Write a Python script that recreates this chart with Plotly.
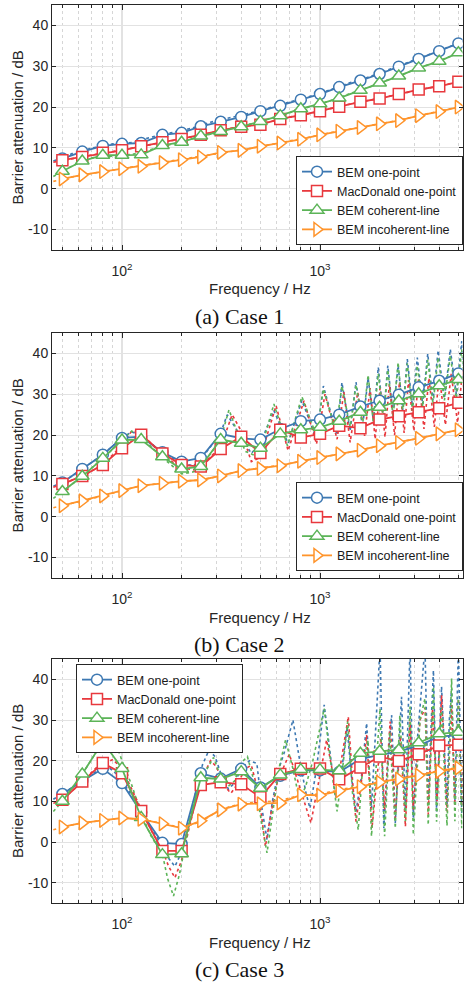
import math
import plotly.graph_objects as go

# ---------------- data ----------------
BANDS = [50, 63, 80, 100, 125, 160, 200, 250, 315, 400, 500, 630, 800, 1000,
         1250, 1600, 2000, 2500, 3150, 4000, 5000]

SERIES_NAMES = ["BEM one-point", "MacDonald one-point", "BEM coherent-line", "BEM incoherent-line"]

# Case 1 (third-octave band values, dB)
c1_bem_point = [7.4, 9.1, 10.5, 11.0, 11.2, 13.2, 13.7, 15.3, 16.4, 17.6, 19.0, 20.3, 21.8, 23.2, 24.9, 26.5, 28.1, 29.9, 31.8, 33.7, 35.6]
c1_macdonald = [7.0, 7.8, 8.8, 9.4, 10.4, 11.4, 12.2, 13.2, 14.3, 15.2, 15.7, 17.1, 18.0, 19.0, 20.1, 21.3, 22.1, 23.2, 24.3, 25.1, 26.2]
c1_coherent = [4.3, 6.8, 8.2, 8.2, 8.3, 10.6, 11.4, 12.9, 14.0, 15.2, 16.5, 17.9, 19.6, 20.8, 22.2, 24.1, 25.9, 27.6, 29.6, 31.2, 33.3]
c1_incoherent = [2.4, 3.4, 4.2, 4.9, 5.5, 6.4, 7.1, 7.8, 8.9, 9.4, 10.4, 11.2, 12.1, 13.2, 14.1, 15.0, 15.9, 16.7, 17.9, 18.9, 20.0]

# Case 1 narrowband (dotted)
nb1_f = [45, 56, 71, 90, 112, 140, 180, 224, 280, 355, 450, 560, 710, 900, 1120, 1400, 1800, 2240, 2800, 3550, 4500, 5400]
nb1_bem_point = [6.8, 8.6, 10.0, 11.0, 11.3, 12.6, 13.8, 14.8, 16.3, 17.4, 18.6, 19.9, 21.3, 22.7, 24.2, 25.9, 27.5, 29.2, 31.0, 32.9, 34.8, 36.2]
nb1_macdonald = [6.5, 7.4, 8.3, 9.1, 9.9, 10.9, 11.8, 12.7, 13.8, 14.8, 15.5, 16.4, 17.6, 18.5, 19.6, 20.7, 21.7, 22.7, 23.8, 24.7, 25.7, 26.6]
nb1_coherent = [3.0, 5.6, 7.6, 8.0, 8.4, 9.6, 11.0, 12.2, 13.5, 14.7, 15.9, 17.2, 18.8, 20.2, 21.5, 23.2, 25.0, 26.8, 28.6, 30.4, 32.3, 34.0]
nb1_incoherent = [1.8, 2.9, 3.8, 4.6, 5.2, 6.0, 6.8, 7.5, 8.4, 9.2, 9.9, 10.8, 11.7, 12.7, 13.7, 14.6, 15.5, 16.3, 17.3, 18.4, 19.5, 20.4]

# Case 2
c2_bem_point = [8.4, 11.7, 15.2, 19.3, 19.6, 15.8, 13.5, 14.4, 20.3, 19.2, 18.9, 21.5, 23.4, 23.8, 25.0, 27.0, 28.4, 29.9, 31.7, 33.3, 35.1]
c2_macdonald = [8.0, 10.0, 12.7, 16.8, 20.1, 15.5, 12.7, 12.3, 16.6, 19.6, 15.6, 21.3, 19.4, 20.3, 22.3, 21.7, 23.8, 24.6, 25.6, 26.6, 27.9]
c2_coherent = [6.2, 9.9, 14.3, 18.8, 18.9, 14.7, 11.7, 12.3, 18.9, 18.0, 16.8, 20.3, 21.3, 21.9, 23.4, 25.6, 26.8, 28.4, 30.1, 32.1, 33.6]
c2_incoherent = [2.7, 3.9, 5.1, 6.4, 7.6, 8.2, 8.7, 9.0, 10.0, 11.3, 11.8, 12.5, 13.6, 14.5, 15.4, 16.3, 17.4, 18.2, 19.2, 20.3, 21.3]

nb2_bem_point_f = [45, 50, 63, 80, 100, 112, 125, 160, 200, 230, 250, 315, 340, 370, 400, 450, 500, 585, 690, 810, 960, 1040, 1220, 1290, 1420, 1520, 1640, 1750, 1860, 1970, 2090, 2200, 2340, 2480, 2620, 2760, 2930, 3100, 3300, 3500, 3720, 3950, 4250, 4550, 4880, 5200, 5400]
nb2_bem_point = [7.5, 8.4, 11.7, 15.2, 19.3, 20.8, 19.8, 15.8, 13.0, 12.5, 14.0, 20.5, 25.0, 22.0, 19.5, 15.5, 18.0, 26.0, 18.0, 28.5, 19.0, 32.0, 20.0, 32.9, 21.0, 33.0, 22.0, 34.0, 23.5, 36.6, 24.0, 37.0, 25.0, 37.0, 26.0, 38.6, 27.0, 39.0, 27.5, 39.9, 28.5, 40.7, 29.0, 41.0, 30.0, 43.0, 31.0]
nb2_macdonald_f = [45, 50, 63, 80, 100, 112, 125, 140, 160, 200, 230, 250, 315, 360, 400, 450, 500, 600, 690, 830, 960, 1060, 1220, 1320, 1420, 1550, 1680, 1790, 1900, 2010, 2130, 2240, 2380, 2520, 2660, 2800, 2980, 3150, 3350, 3550, 3780, 4000, 4300, 4600, 4950, 5250, 5400]
nb2_macdonald = [7.2, 8.0, 10.0, 12.7, 17.5, 21.0, 20.5, 18.0, 15.0, 12.0, 11.5, 12.5, 17.0, 25.0, 21.0, 13.5, 14.5, 27.2, 16.2, 28.4, 17.8, 30.0, 19.0, 30.5, 18.2, 30.5, 19.8, 31.5, 19.0, 31.5, 19.5, 32.5, 20.0, 33.0, 20.5, 33.5, 21.0, 34.0, 21.5, 34.0, 22.0, 34.5, 22.5, 35.0, 23.0, 36.0, 24.0]
nb2_coherent_f = [45, 50, 63, 80, 100, 112, 125, 160, 200, 230, 250, 315, 347, 380, 420, 470, 500, 585, 685, 810, 960, 1040, 1200, 1290, 1420, 1520, 1640, 1750, 1860, 1970, 2090, 2200, 2340, 2480, 2620, 2760, 2930, 3100, 3300, 3500, 3720, 3950, 4250, 4550, 4880, 5200, 5400]
nb2_coherent = [4.5, 6.2, 9.9, 14.3, 18.8, 21.0, 19.5, 14.5, 10.5, 11.0, 12.0, 19.0, 26.2, 21.0, 16.0, 15.0, 16.0, 27.6, 17.4, 29.4, 19.8, 31.3, 21.0, 32.0, 22.0, 32.3, 22.5, 34.7, 23.0, 35.0, 24.0, 36.0, 24.5, 37.8, 25.5, 37.5, 26.0, 37.0, 27.0, 38.5, 27.5, 39.0, 28.5, 39.5, 29.0, 41.0, 30.0]
nb2_incoherent_f = [45, 50, 63, 80, 100, 125, 160, 200, 250, 315, 400, 500, 630, 800, 1000, 1250, 1600, 2000, 2500, 3150, 4000, 5000, 5400]
nb2_incoherent = [2.2, 2.7, 3.9, 5.1, 6.4, 7.6, 8.2, 8.7, 9.0, 10.0, 11.3, 11.9, 12.6, 13.6, 14.5, 15.4, 16.3, 17.4, 18.2, 19.2, 20.3, 21.3, 21.6]

# Case 3
c3_bem_point = [11.8, 15.0, 18.0, 14.5, 7.3, -0.2, -0.5, 16.9, 15.6, 18.0, 13.4, 16.3, 17.6, 17.6, 17.2, 20.4, 21.4, 22.2, 23.7, 25.9, 26.3]
c3_macdonald = [10.4, 14.9, 19.4, 16.9, 7.6, -2.2, -2.2, 14.0, 14.7, 14.2, 11.0, 16.7, 18.0, 18.1, 15.4, 18.3, 21.0, 19.9, 21.6, 23.7, 23.9]
c3_coherent = [10.0, 16.7, 24.7, 18.1, 6.0, -3.1, -2.9, 15.8, 15.5, 17.3, 13.2, 16.5, 17.8, 17.8, 17.5, 21.8, 22.3, 22.7, 24.4, 26.6, 27.0]
c3_incoherent = [3.7, 4.7, 5.3, 5.9, 5.6, 4.5, 3.4, 5.2, 7.9, 9.3, 9.4, 9.6, 11.6, 11.5, 12.6, 13.6, 14.7, 15.5, 16.4, 17.4, 18.2]

nb3_bem_point_f = [45, 50, 63, 75, 85, 95, 100, 112, 125, 140, 160, 172, 185, 200, 215, 235, 255, 275, 295, 320, 345, 370, 400, 440, 480, 510, 540, 575, 620, 660, 730, 790, 850, 890, 960, 1050, 1120, 1200, 1290, 1370, 1450, 1520, 1620, 1720, 1820, 1900, 2010, 2100, 2200, 2300, 2400, 2500, 2580, 2700, 2850, 2960, 3100, 3390, 3520, 3650, 3740, 3880, 4000, 4110, 4380, 4500, 4620, 4800, 5000, 5200, 5400]
nb3_bem_point = [10.5, 11.8, 15.0, 17.5, 18.5, 16.5, 15.0, 11.5, 7.5, 3.5, -1.0, -4.0, -6.0, -2.5, 3.0, 12.0, 19.0, 22.6, 21.0, 16.0, 13.0, 14.5, 18.0, 20.0, 19.3, 8.0, 0.6, 10.0, 18.0, 22.0, 30.0, 20.0, 12.0, 8.3, 18.0, 33.7, 22.0, 10.8, 18.0, 28.2, 15.0, 7.5, 16.0, 29.2, 8.3, 25.0, 48.0, 3.4, 20.0, 31.2, 4.7, 22.0, 35.7, 8.0, 48.0, 6.0, 25.0, 48.0, 10.0, 30.0, 42.2, 7.5, 25.0, 38.2, 9.0, 30.0, 37.7, 10.0, 48.0, 7.0, 41.0]
nb3_macdonald_f = [45, 50, 63, 75, 90, 100, 112, 125, 140, 160, 172, 185, 200, 215, 235, 255, 280, 300, 325, 355, 380, 420, 450, 490, 530, 570, 610, 700, 760, 830, 900, 960, 1080, 1150, 1220, 1300, 1390, 1460, 1520, 1620, 1720, 1830, 1930, 2030, 2120, 2260, 2400, 2550, 2700, 2850, 2960, 3200, 3400, 3520, 3700, 3900, 4110, 4380, 4620, 4800, 5000, 5200, 5400]
nb3_macdonald = [9.5, 10.4, 14.9, 18.5, 20.3, 18.0, 13.0, 8.0, 3.0, -2.0, -6.0, -8.8, -4.5, 2.0, 10.0, 16.0, 20.0, 18.5, 14.0, 12.0, 14.0, 18.0, 18.9, 12.0, -1.1, 8.0, 15.0, 21.6, 16.0, 10.0, 4.7, 12.0, 25.1, 18.0, 14.0, 22.0, 30.8, 15.0, 5.0, 15.0, 26.3, 3.4, 15.0, 25.5, 8.0, 29.6, 5.9, 26.0, 3.8, 29.6, 8.0, 30.0, 33.0, 6.7, 32.8, 10.0, 36.1, 7.5, 33.7, 9.0, 35.3, 8.0, 32.0]
nb3_coherent_f = [45, 50, 63, 75, 87, 95, 100, 112, 125, 140, 160, 170, 182, 195, 210, 230, 255, 290, 310, 340, 370, 400, 430, 470, 540, 580, 620, 670, 730, 790, 850, 920, 1050, 1130, 1220, 1300, 1380, 1460, 1560, 1650, 1750, 1820, 1930, 2010, 2120, 2250, 2400, 2530, 2700, 2850, 2960, 3200, 3390, 3520, 3740, 3880, 4110, 4380, 4620, 4800, 5000, 5200, 5400]
nb3_coherent = [7.5, 10.0, 16.7, 22.5, 25.5, 23.0, 20.0, 14.0, 7.0, 1.5, -3.0, -9.0, -13.3, -8.0, 0.0, 10.0, 16.0, 20.8, 17.0, 13.5, 15.0, 19.5, 21.0, 14.0, -2.7, 8.0, 18.0, 25.1, 18.0, 10.0, 14.0, 20.0, 32.8, 20.0, 7.5, 18.0, 29.6, 12.0, 3.0, 20.0, 25.0, 1.4, 20.0, 32.8, 1.4, 27.1, 3.4, 31.2, 5.1, 33.3, 1.8, 30.0, 35.3, 4.2, 38.2, 5.0, 33.0, 4.0, 40.2, 5.1, 35.3, 3.4, 37.7]
nb3_incoherent_f = [45, 50, 63, 80, 100, 125, 160, 200, 250, 315, 400, 500, 630, 800, 1000, 1250, 1600, 2000, 2500, 3150, 4000, 5000, 5400]
nb3_incoherent = [3.0, 3.7, 4.7, 5.3, 5.9, 5.6, 4.6, 3.5, 5.0, 8.0, 9.5, 9.8, 10.2, 11.5, 11.8, 12.8, 13.8, 14.8, 15.6, 16.6, 17.6, 18.4, 18.7]

CAPTIONS = ["(a) Case 1", "(b) Case 2", "(c) Case 3"]
X_TITLE = "Frequency / Hz"
Y_TITLE = "Barrier attenuation / dB"
Y_TICKS = [-10, 0, 10, 20, 30, 40]
X_TICKS = [100, 1000]
X_TICK_TEXT = ["10<sup>2</sup>", "10<sup>3</sup>"]
X_MINOR = [50, 60, 70, 80, 90, 200, 300, 400, 500, 600, 700, 800, 900,
           2000, 3000, 4000, 5000]

CASES = [
    dict(band=[c1_bem_point, c1_macdonald, c1_coherent, c1_incoherent],
         nb=[(nb1_f, nb1_bem_point), (nb1_f, nb1_macdonald), (nb1_f, nb1_coherent), (nb1_f, nb1_incoherent)]),
    dict(band=[c2_bem_point, c2_macdonald, c2_coherent, c2_incoherent],
         nb=[(nb2_bem_point_f, nb2_bem_point), (nb2_macdonald_f, nb2_macdonald),
             (nb2_coherent_f, nb2_coherent), (nb2_incoherent_f, nb2_incoherent)]),
    dict(band=[c3_bem_point, c3_macdonald, c3_coherent, c3_incoherent],
         nb=[(nb3_bem_point_f, nb3_bem_point), (nb3_macdonald_f, nb3_macdonald),
             (nb3_coherent_f, nb3_coherent), (nb3_incoherent_f, nb3_incoherent)]),
]

# ---------------- style ----------------
W, H = 465, 985
FONT = "Liberation Sans, Arial, Helvetica, sans-serif"
SERIF = "Liberation Serif, Times New Roman, serif"
AX_COL = "#262626"
COLORS = ["#3D78B2", "#E8383D", "#5CB458", "#FF942B"]
SYMBOLS = ["circle", "square", "triangle-up", "triangle-right"]
SIZES = [11, 11, 12, 12]

PANELS = [(5, 250), (333, 578), (659, 903)]  # top/bottom pixel rows
X_LEFT, X_RIGHT = 52, 462.5
XLOG_MIN = 2 - (122 - X_LEFT) / 198.0
XLOG_MAX = 3 + (X_RIGHT - 320) / 198.0


def py(p):
    return 1 - p / H


def pxx(p):
    return p / W


fig = go.Figure()
legend_names = ["legend", "legend2", "legend3"]

for ci, case in enumerate(CASES):
    xa = "x" if ci == 0 else f"x{ci + 1}"
    ya = "y" if ci == 0 else f"y{ci + 1}"
    # dotted narrowband lines
    for si in range(4):
        f, v = case["nb"][si]
        fig.add_trace(go.Scatter(
            x=f, y=v, mode="lines", xaxis=xa, yaxis=ya,
            line=dict(color=COLORS[si], width=1.6, dash="dot"),
            showlegend=False, hoverinfo="skip"))
    # third-octave band lines with markers
    for si in range(4):
        fig.add_trace(go.Scatter(
            x=BANDS, y=case["band"][si], mode="lines+markers",
            xaxis=xa, yaxis=ya, name=SERIES_NAMES[si],
            legend=legend_names[ci], showlegend=True,
            line=dict(color=COLORS[si], width=1.8),
            marker=dict(symbol=SYMBOLS[si], size=SIZES[si], color="white",
                        line=dict(color=COLORS[si], width=1.5))))

layout = dict(
    width=W, height=H, margin=dict(l=0, r=0, t=0, b=0),
    paper_bgcolor="white", plot_bgcolor="white",
    font=dict(family=FONT, size=14, color=AX_COL),
    showlegend=True,
)

leg_common = dict(bgcolor="white", bordercolor=AX_COL, borderwidth=1,
                  font=dict(family=FONT, size=12.5, color="#1a1a1a"),
                  tracegroupgap=0, itemwidth=30)
layout["legend"] = dict(leg_common, x=pxx(463), xanchor="right", y=py(245), yanchor="bottom")
layout["legend2"] = dict(leg_common, x=pxx(463), xanchor="right", y=py(571), yanchor="bottom")
layout["legend3"] = dict(leg_common, x=pxx(76), xanchor="left", y=py(664), yanchor="top")

annotations = []
for ci, (top, bot) in enumerate(PANELS):
    xk = "xaxis" if ci == 0 else f"xaxis{ci + 1}"
    yk = "yaxis" if ci == 0 else f"yaxis{ci + 1}"
    ya = "y" if ci == 0 else f"y{ci + 1}"
    xa = "x" if ci == 0 else f"x{ci + 1}"
    layout[xk] = dict(
        type="log", range=[XLOG_MIN, XLOG_MAX], domain=[pxx(X_LEFT), pxx(X_RIGHT)],
        anchor=ya, tickvals=X_TICKS, ticktext=X_TICK_TEXT,
        ticks="inside", ticklen=5, tickwidth=1, tickcolor=AX_COL,
        showline=True, linecolor=AX_COL, linewidth=1, mirror="allticks",
        showgrid=True, gridcolor="#e2e2e2", gridwidth=1.5, zeroline=False,
        tickfont=dict(family=FONT, size=14, color=AX_COL), ticklabelstandoff=8,
        minor=dict(tickvals=X_MINOR, ticks="inside", ticklen=3, tickcolor=AX_COL,
                   showgrid=True, gridcolor="#d6d6d6", griddash="dot", gridwidth=1),
    )
    layout[yk] = dict(
        range=[-15, 45], domain=[py(bot), py(top)], anchor=xa,
        tickvals=Y_TICKS, ticktext=[str(t) for t in Y_TICKS],
        ticks="inside", ticklen=4, tickwidth=1, tickcolor=AX_COL,
        showline=True, linecolor=AX_COL, linewidth=1, mirror="allticks",
        showgrid=True, gridcolor="#e2e2e2", gridwidth=1.2, zeroline=False,
        tickfont=dict(family=FONT, size=14, color=AX_COL),
    )
    mid = (top + bot) / 2.0
    annotations.append(dict(text=Y_TITLE, x=pxx(17), y=py(mid), xref="paper", yref="paper",
                            textangle=-90, showarrow=False, xanchor="center", yanchor="middle",
                            font=dict(family=FONT, size=15, color=AX_COL)))
    annotations.append(dict(text=X_TITLE, x=pxx(260), y=py(bot + 39), xref="paper", yref="paper",
                            showarrow=False, xanchor="center", yanchor="middle",
                            font=dict(family=FONT, size=15, color=AX_COL)))
    annotations.append(dict(text=CAPTIONS[ci], x=pxx(239), y=py(bot + 66), xref="paper", yref="paper",
                            showarrow=False, xanchor="center", yanchor="middle",
                            font=dict(family=SERIF, size=22, color="#111111")))
layout["annotations"] = annotations

fig.update_layout(layout)
fig.write_html(
    "out.html",
    config={"displayModeBar": False},
    post_script="document.body.style.margin='0';document.body.style.padding='0';"
                "document.body.style.overflow='hidden';",
)
